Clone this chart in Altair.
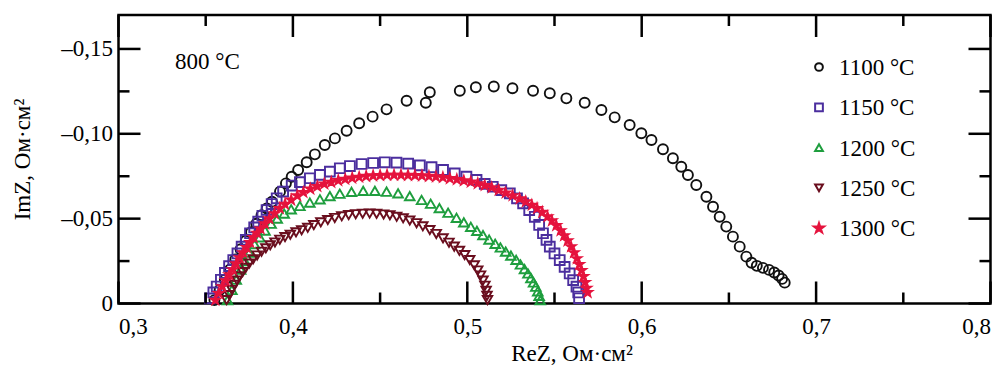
import altair as alt
import pandas as pd

# ---------------- data ----------------
series_names = ["1100 °C", "1150 °C", "1200 °C", "1250 °C", "1300 °C"]
stroke_colors = ["#111111", "#4b2e9e", "#1e9e3e", "#6a0e1e", "#e5133d"]
fill_colors = ["transparent", "transparent", "transparent", "transparent", "#e5133d"]
STAR = ("M0,-1L0.2245,-0.309L0.9511,-0.309L0.3633,0.118L0.5878,0.809L0,0.382"
        "L-0.5878,0.809L-0.3633,0.118L-0.9511,-0.309L-0.2245,-0.309Z")
shapes = ["circle", "square", "triangle-up", "triangle-down", STAR]

re_1100 = [0.3550, 0.3580, 0.3610, 0.3640, 0.3670, 0.3700, 0.3730, 0.3760, 0.3790, 0.3820,
           0.3850, 0.3880, 0.3926, 0.3960, 0.3993, 0.4030, 0.4079, 0.4126, 0.4183, 0.4241,
           0.4308, 0.4380, 0.4457, 0.4537, 0.4652, 0.4762, 0.4785, 0.4957, 0.5049, 0.5152,
           0.5259, 0.5377, 0.5473, 0.5568, 0.5673, 0.5769, 0.5845, 0.5931, 0.5998, 0.6056,
           0.6122, 0.6179, 0.6227, 0.6265, 0.6313, 0.6371, 0.6409, 0.6447, 0.6485, 0.6523,
           0.6562, 0.6600, 0.6630, 0.6660, 0.6695, 0.6730, 0.6760, 0.6785, 0.6805, 0.6820]
im_1100 = [-0.002, -0.008, -0.014, -0.020, -0.026, -0.032, -0.037, -0.042, -0.047, -0.052,
           -0.056, -0.060, -0.0659, -0.0708, -0.0747, -0.0787, -0.0832, -0.0879, -0.0934, -0.0973,
           -0.1018, -0.1062, -0.1101, -0.1144, -0.1195, -0.1183, -0.1245, -0.1254, -0.1274, -0.1279,
           -0.1268, -0.1254, -0.1239, -0.1209, -0.1183, -0.1140, -0.1097, -0.1052, -0.1003, -0.0963,
           -0.0909, -0.0856, -0.0806, -0.0757, -0.0698, -0.0629, -0.0570, -0.0511, -0.0453, -0.0394,
           -0.0335, -0.0276, -0.0240, -0.0222, -0.0210, -0.0198, -0.0183, -0.0165, -0.0145, -0.0123]

re_1150 = [0.3524, 0.3544, 0.3563, 0.3587, 0.3610, 0.3634, 0.3658, 0.3682, 0.3706, 0.3730,
           0.3754, 0.3778, 0.3801, 0.3825, 0.3849, 0.3878, 0.3907, 0.3944, 0.3993, 0.4040,
           0.4097, 0.4155, 0.4212, 0.4269, 0.4327, 0.4394, 0.4460, 0.4527, 0.4594, 0.4661,
           0.4728, 0.4795, 0.4861, 0.4928, 0.4995, 0.5053, 0.5100, 0.5146, 0.5195, 0.5244,
           0.5285, 0.5320, 0.5355, 0.5387, 0.5412, 0.5434, 0.5454, 0.5473, 0.5500, 0.5530,
           0.5558, 0.5587, 0.5607, 0.5626, 0.5636, 0.5641]
im_1150 = [-0.0030, -0.0065, -0.0100, -0.0140, -0.0180, -0.0220, -0.0256, -0.0295, -0.0335, -0.0375,
           -0.0414, -0.0448, -0.0482, -0.0517, -0.0551, -0.0586, -0.0620, -0.0659, -0.0695, -0.0715,
           -0.0738, -0.0758, -0.0777, -0.0797, -0.0810, -0.0822, -0.0828, -0.0832, -0.0830, -0.0824,
           -0.0814, -0.0803, -0.0787, -0.0767, -0.0747, -0.0728, -0.0705, -0.0688, -0.0668, -0.0649,
           -0.0620, -0.0590, -0.0550, -0.0511, -0.0463, -0.0414, -0.0375, -0.0335, -0.0295, -0.0256,
           -0.0216, -0.0177, -0.0138, -0.0099, -0.0065, -0.0031]

re_1200 = [0.3625, 0.3650, 0.3675, 0.3700, 0.3725, 0.3750, 0.3780, 0.3810, 0.3840, 0.3875,
           0.3910, 0.3950, 0.3990, 0.4040, 0.4097, 0.4155, 0.4212, 0.4269, 0.4336, 0.4403,
           0.4470, 0.4537, 0.4603, 0.4670, 0.4738, 0.4790, 0.4840, 0.4890, 0.4938, 0.4980,
           0.5020, 0.5055, 0.5090, 0.5125, 0.5160, 0.5190, 0.5220, 0.5250, 0.5280, 0.5305,
           0.5328, 0.5348, 0.5365, 0.5380, 0.5393, 0.5404, 0.5412, 0.5418]
im_1200 = [-0.0020, -0.0080, -0.0140, -0.0200, -0.0250, -0.0300, -0.0350, -0.0390, -0.0430, -0.0470,
           -0.0500, -0.0530, -0.0555, -0.0575, -0.0595, -0.0614, -0.0633, -0.0647, -0.0658, -0.0664,
           -0.0664, -0.0659, -0.0649, -0.0633, -0.0610, -0.0588, -0.0562, -0.0535, -0.0505, -0.0478,
           -0.0452, -0.0428, -0.0403, -0.0377, -0.0352, -0.0330, -0.0306, -0.0282, -0.0257, -0.0230,
           -0.0203, -0.0177, -0.0150, -0.0124, -0.0099, -0.0072, -0.0045, -0.0020]

re_1250 = [0.3620, 0.3635, 0.3650, 0.3665, 0.3680, 0.3695, 0.3712, 0.3730, 0.3750, 0.3772,
           0.3795, 0.3820, 0.3845, 0.3870, 0.3897, 0.3925, 0.3955, 0.3985, 0.4018, 0.4050,
           0.4085, 0.4120, 0.4160, 0.4200, 0.4240, 0.4280, 0.4320, 0.4360, 0.4400, 0.4440,
           0.4480, 0.4520, 0.4556, 0.4595, 0.4632, 0.4670, 0.4709, 0.4745, 0.4785, 0.4822,
           0.4861, 0.4895, 0.4925, 0.4955, 0.4985, 0.5014, 0.5040, 0.5060, 0.5076, 0.5090,
           0.5101, 0.5108, 0.5113, 0.5116]
im_1250 = [-0.0020, -0.0050, -0.0080, -0.0110, -0.0135, -0.0160, -0.0185, -0.0210, -0.0235, -0.0260,
           -0.0283, -0.0305, -0.0325, -0.0343, -0.0360, -0.0376, -0.0391, -0.0405, -0.0419, -0.0432,
           -0.0446, -0.0462, -0.0478, -0.0492, -0.0504, -0.0514, -0.0521, -0.0526, -0.0529, -0.0530,
           -0.0528, -0.0525, -0.0520, -0.0511, -0.0502, -0.0489, -0.0473, -0.0455, -0.0433, -0.0410,
           -0.0384, -0.0358, -0.0335, -0.0310, -0.0285, -0.0256, -0.0225, -0.0195, -0.0165, -0.0135,
           -0.0105, -0.0075, -0.0045, -0.0020]

re_1300 = [0.3555, 0.3575, 0.3595, 0.3615, 0.3635, 0.3655, 0.3675, 0.3695, 0.3715, 0.3735,
           0.3755, 0.3775, 0.3795, 0.3815, 0.3840, 0.3865, 0.3895, 0.3925, 0.3955, 0.3990,
           0.4025, 0.4060, 0.4100, 0.4140, 0.4180, 0.4220, 0.4260, 0.4300, 0.4340, 0.4380,
           0.4420, 0.4460, 0.4500, 0.4540, 0.4580, 0.4620, 0.4660, 0.4700, 0.4740, 0.4780,
           0.4820, 0.4860, 0.4900, 0.4940, 0.4980, 0.5020, 0.5060, 0.5100, 0.5140, 0.5180,
           0.5220, 0.5260, 0.5300, 0.5335, 0.5370, 0.5400, 0.5430, 0.5460, 0.5485, 0.5510,
           0.5535, 0.5555, 0.5575, 0.5595, 0.5612, 0.5628, 0.5642, 0.5655, 0.5666, 0.5676,
           0.5684, 0.5690]
im_1300 = [-0.0020, -0.0060, -0.0100, -0.0135, -0.0170, -0.0200, -0.0235, -0.0270, -0.0300, -0.0330,
           -0.0360, -0.0390, -0.0415, -0.0440, -0.0470, -0.0500, -0.0530, -0.0560, -0.0585, -0.0610,
           -0.0635, -0.0655, -0.0675, -0.0690, -0.0705, -0.0715, -0.0725, -0.0733, -0.0740, -0.0745,
           -0.0750, -0.0753, -0.0755, -0.0757, -0.0757, -0.0757, -0.0756, -0.0755, -0.0753, -0.0750,
           -0.0747, -0.0743, -0.0737, -0.0731, -0.0724, -0.0716, -0.0707, -0.0696, -0.0683, -0.0668,
           -0.0652, -0.0636, -0.0618, -0.0600, -0.0580, -0.0560, -0.0538, -0.0512, -0.0488, -0.0460,
           -0.0430, -0.0400, -0.0370, -0.0335, -0.0300, -0.0265, -0.0230, -0.0195, -0.0160, -0.0125,
           -0.0090, -0.0065]

x_major = [0.3, 0.4, 0.5, 0.6, 0.7, 0.8]
x_minor = [0.35, 0.45, 0.55, 0.65, 0.75]
y_major = [0.0, -0.05, -0.10, -0.15]
y_minor = [-0.025, -0.075, -0.125]
annotation = "800 °C"
annotation_pos = (0.3324, -0.1423)

# ---------------- build tables ----------------
rows = []
for name, xs, ys in zip(series_names,
                        [re_1100, re_1150, re_1200, re_1250, re_1300],
                        [im_1100, im_1150, im_1200, im_1250, im_1300]):
    for a, b in zip(xs, ys):
        rows.append({"T": name, "re": a, "im": b})
df = pd.DataFrame(rows)

W, H = 872, 288.5
MAJ, MIN = 22, 11
FONT = "Liberation Serif"
FS = 23
X_DOM = [0.3, 0.8]
Y_DOM = [-0.17, 0.0]

xscale = alt.Scale(domain=X_DOM, nice=False, zero=False)
yscale = alt.Scale(domain=Y_DOM, nice=False, zero=False, reverse=True)
stroke_scale = alt.Scale(domain=series_names, range=stroke_colors)
fill_scale = alt.Scale(domain=series_names, range=fill_colors)
shape_scale = alt.Scale(domain=series_names, range=shapes)

x_axis = alt.Axis(
    values=x_major, ticks=False, domain=False, grid=False,
    labelExpr="replace(format(datum.value, '.1f'), '.', ',')",
    labelFlush=True, labelPadding=12, labelFont=FONT, labelFontSize=FS,
    labelColor="black", title="ReZ, Ом·см²", titleFont=FONT,
    titleFontSize=FS, titleFontWeight="normal", titleColor="black",
    titleX=453, titleY=50, titleBaseline="middle", titleAlign="center")
y_axis = alt.Axis(
    values=y_major, ticks=False, domain=False, grid=False,
    labelExpr="datum.value == 0 ? '0' : '–' + replace(format(-datum.value, '.2f'), '.', ',')",
    labelPadding=6, labelFont=FONT, labelFontSize=FS, labelColor="black",
    title="ImZ, Ом·см²", titleFont=FONT, titleFontSize=FS,
    titleFontWeight="normal", titleColor="black", titleAngle=270,
    titleX=-96, titleY=144, titleBaseline="middle", titleAlign="center")

points = alt.Chart(df).mark_point(opacity=1, strokeWidth=1.9).encode(
    x=alt.X("re:Q", scale=xscale, axis=x_axis),
    y=alt.Y("im:Q", scale=yscale, axis=y_axis),
    stroke=alt.Stroke("T:N", scale=stroke_scale, legend=None),
    fill=alt.Fill("T:N", scale=fill_scale, legend=None),
    shape=alt.Shape("T:N", scale=shape_scale, legend=None),
    size=alt.Size("T:N", scale=alt.Scale(domain=series_names, range=[100, 85, 100, 100, 250]), legend=None),
)

ann = alt.Chart(pd.DataFrame({"re": [annotation_pos[0]], "im": [annotation_pos[1]],
                              "t": [annotation]})).mark_text(
    align="left", baseline="middle", font=FONT, fontSize=FS, color="black"
).encode(x=alt.X("re:Q", scale=xscale, axis=x_axis),
         y=alt.Y("im:Q", scale=yscale, axis=y_axis), text="t:N")

# ---- inward frame ticks (decoration): positions follow the same linear mapping as the axes ----
def x_px(v):
    return (v - X_DOM[0]) / (X_DOM[1] - X_DOM[0]) * W

def y_px(v):
    return (v - Y_DOM[0]) / (Y_DOM[1] - Y_DOM[0]) * H

tick_layers = []
for vals, L in [(x_major, MAJ), (x_minor, MIN)]:
    for v in vals:
        p = x_px(v)
        for y0, y1 in [(H, H - L), (0, L)]:
            tick_layers.append(alt.Chart(pd.DataFrame({"k": [v]})).mark_rule(
                color="black", strokeWidth=2.5).encode(
                x=alt.value(p), y=alt.value(y0), y2=alt.value(y1)))
for vals, L in [(y_major, MAJ), (y_minor, MIN)]:
    for v in vals:
        p = y_px(v)
        for x0, x1 in [(0, L), (W, W - L)]:
            tick_layers.append(alt.Chart(pd.DataFrame({"k": [v]})).mark_rule(
                color="black", strokeWidth=2.5).encode(
                y=alt.value(p), x=alt.value(x0), x2=alt.value(x1)))

# ---- legend drawn as its own small layers (one row per series) ----
LEG_X, LEG_Y0, LEG_DY = 700.5, 52, 40.3
legend_layers = []
for i, name in enumerate(series_names):
    d = pd.DataFrame({"T": [name]})
    sym = alt.Chart(d).mark_point(opacity=1, strokeWidth=2).encode(
        x=alt.value(LEG_X), y=alt.value(LEG_Y0 + i * LEG_DY),
        stroke=alt.Stroke("T:N", scale=stroke_scale, legend=None),
        fill=alt.Fill("T:N", scale=fill_scale, legend=None),
        shape=alt.Shape("T:N", scale=shape_scale, legend=None),
        size=alt.value(110 if i == 4 else 60),
    )
    lab = alt.Chart(d).mark_text(
        align="left", baseline="middle", font=FONT, fontSize=FS, color="black"
    ).encode(x=alt.value(LEG_X + 20), y=alt.value(LEG_Y0 + i * LEG_DY + 1), text="T:N")
    legend_layers += [sym, lab]

chart = alt.layer(points, ann, *legend_layers, *tick_layers).properties(
    width=W, height=H,
    autosize=alt.AutoSizeParams(type="none"),
    padding={"left": 118.5, "top": 15, "right": 9.5, "bottom": 65.5},
    background="white",
).configure_view(stroke="black", strokeWidth=2.5)

chart.save("out.html", embed_options={"renderer": "svg", "actions": False})
